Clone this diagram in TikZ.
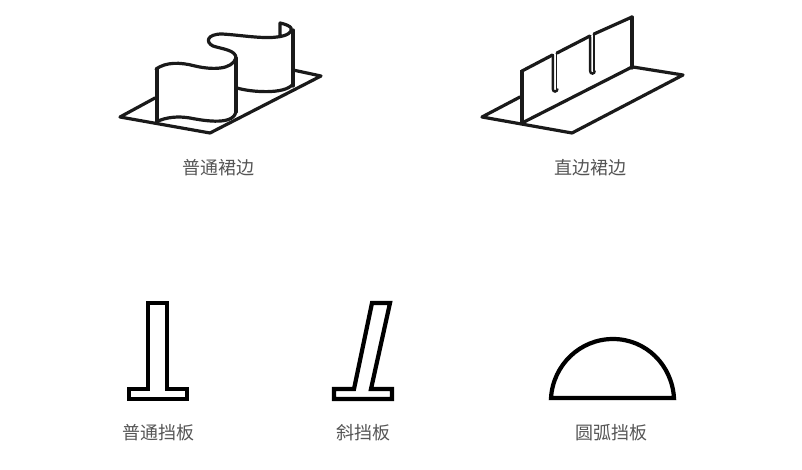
\documentclass[tikz,border=0pt]{standalone}
\usepackage{fontspec}
\newfontfamily\cjk{Noto Sans CJK SC}
\definecolor{labelgray}{HTML}{555555}
\definecolor{inkline}{HTML}{1A1A1A}
\tikzset{
  thinink/.style={draw=inkline,line width=3.2pt,line join=round,line cap=round},
  boldink/.style={draw=inkline,line width=4pt,line cap=butt},
  profile/.style={draw=black,line width=4.2pt,line join=miter},
  slitheavy/.style={draw=inkline,line width=2.4pt},
  slitlight/.style={draw=inkline,line width=1.3pt},
  caption/.style={font=\cjk\fontsize{18}{20}\selectfont,text=labelgray,inner sep=0pt}
}
\begin{document}
\begin{tikzpicture}[x=1pt,y=-1pt]
\useasboundingbox (0,0) rectangle (802,470);
% left: wavy skirt
\draw[thinink] (155,98) -- (120,117) -- (210,133) -- (321,76) -- (293,70);
\draw[thinink] (156,122) .. controls (166,117) and (178,116) .. (190,118)
  .. controls (205,121) and (236,126) .. (236,110);
\draw[thinink] (237,88) .. controls (250,92) and (285,95) .. (293,84);
\draw[boldink] (157,68) -- (157,122);
\draw[thinink] (236,58) -- (236,112);
\draw[thinink] (293,30) -- (293,86);
\draw[thinink] (156,69) .. controls (166,62) and (180,62) .. (195,66)
  .. controls (212,70) and (232,70) .. (236,58)
  .. controls (236,50) and (222,49) .. (213,46)
  .. controls (205,42) and (207,34) .. (222,34)
  .. controls (240,35) and (262,39) .. (277,37)
  .. controls (287,36) and (293,32) .. (291,28)
  .. controls (290,26) and (285,24) .. (280,23) -- (280,35);
% right: straight skirt
\draw[thinink] (520,97) -- (482,117) -- (572,133) -- (683,75) -- (633,67);
\draw[thinink] (522,123) -- (632,67);
\draw[boldink] (522,70) -- (522,124);
\draw[thinink] (632,17) -- (632,68);
\draw[thinink] (522,71) -- (552.5,55);
\draw[thinink] (557,53) -- (590,36);
\draw[thinink] (594,34) -- (632,17);
\draw[slitlight] (556.7,53) -- (556.7,89);
\draw[slitheavy] (552.8,55) -- (552.8,89) .. controls (552.8,92.5) and (557.5,92.5) .. (557.5,88.5);
\draw[slitlight] (594,35) -- (594,71);
\draw[slitheavy] (590.1,37) -- (590.1,71) .. controls (590.1,74.5) and (594.8,74.5) .. (594.8,70.5);
% profiles
\draw[profile] (148,303) -- (167,303) -- (167,389) -- (187,389) -- (187,399) -- (129,399) -- (129,389) -- (148,389) -- cycle;
\draw[profile] (372,303) -- (390,303) -- (371,389) -- (392,389) -- (392,399) -- (334,399) -- (334,389) -- (354,389) -- cycle;
\draw[profile] (551,398) .. controls (553,365) and (580,339) .. (613,339) .. controls (646,339) and (672,365) .. (674,398) -- cycle;
% captions
\node[caption] (c1) at (218.5,168) {普通裙边};
\node[caption] (c2) at (590,168) {直边裙边};
\node[caption] (c3) at (158,433) {普通挡板};
\node[caption] (c4) at (363,433) {斜挡板};
\node[caption] (c5) at (611,433) {圆弧挡板};
\end{tikzpicture}
\end{document}
